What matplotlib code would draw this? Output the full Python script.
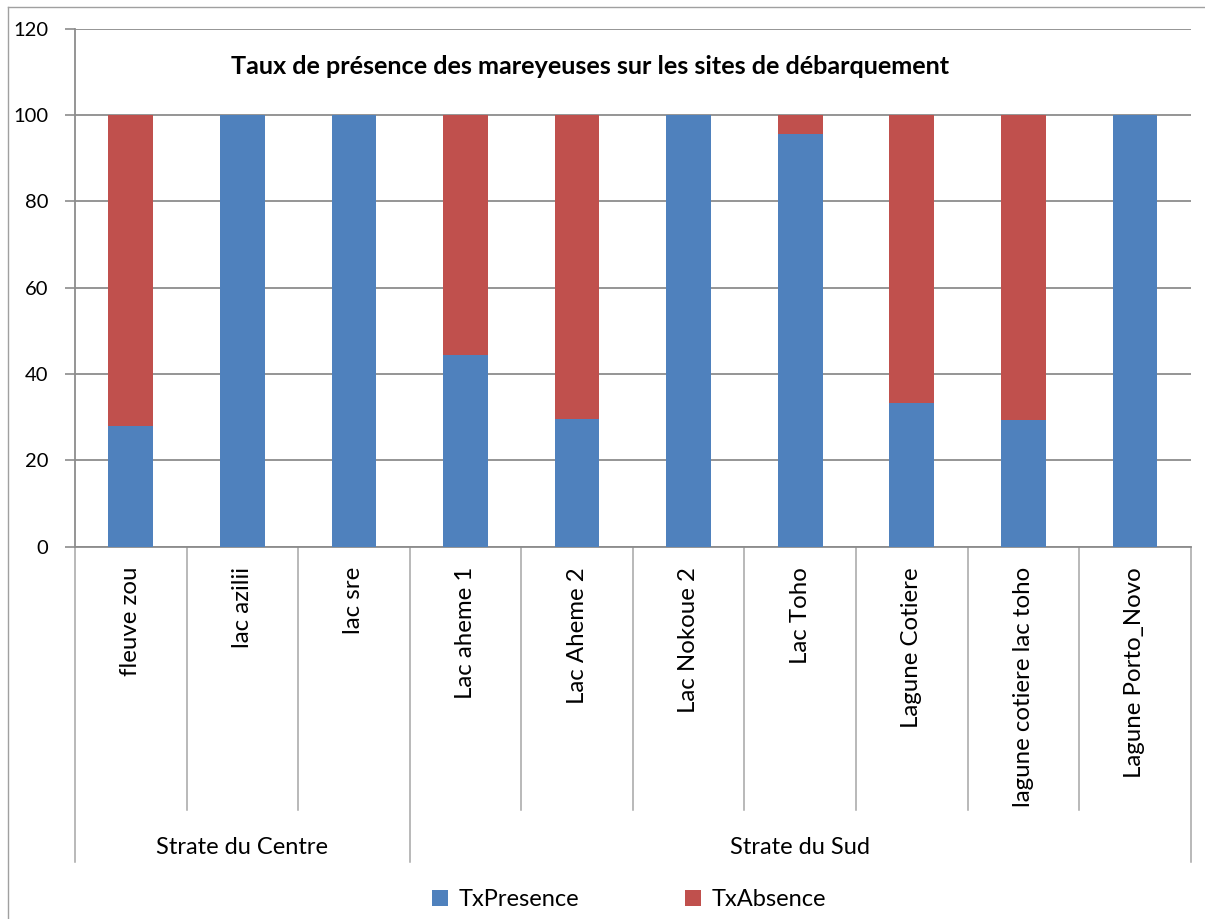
import matplotlib
matplotlib.use("Agg")
import matplotlib.pyplot as plt
from matplotlib.transforms import blended_transform_factory
from matplotlib.patches import Patch
from matplotlib.lines import Line2D

plt.rcParams['font.family'] = ['Lato', 'DejaVu Sans']

# ---- data ----
categories = ["fleuve zou", "lac azilii", "lac sre", "Lac aheme 1", "Lac Aheme 2",
              "Lac Nokoue 2", "Lac Toho", "Lagune Cotiere", "lagune cotiere lac toho",
              "Lagune Porto_Novo"]
groups = ["Strate du Centre", "Strate du Sud"]
group_sizes = [3, 7]
tx_presence = [28.0, 100.0, 100.0, 44.4, 29.6, 100.0, 95.5, 33.3, 29.2, 100.0]
tx_absence = [72.0, 0.0, 0.0, 55.6, 70.4, 0.0, 4.5, 66.7, 70.8, 0.0]
series_names = ["TxPresence", "TxAbsence"]
yticks = [0, 20, 40, 60, 80, 100, 120]
title = "Taux de présence des mareyeuses sur les sites de débarquement"

BLUE = "#4F81BD"
RED = "#C0504D"
GRID = "#8C8C8C"

W, H = 1205, 919
fig = plt.figure(figsize=(W / 100, H / 100), dpi=100)

def fx(px):
    return px / W

def fy(py):
    return 1 - py / H

# outer chart frame (top & left visible)
fig.add_artist(Line2D([fx(8), fx(1205)], [fy(7), fy(7)], color="#A0A0A0", lw=1.0))
fig.add_artist(Line2D([fx(8), fx(8)], [fy(7), fy(919)], color="#A0A0A0", lw=1.0))

left, right, top, bottom = 75, 1190.7, 28.6, 546.5
ax = fig.add_axes([fx(left), fy(bottom), fx(right - left), (bottom - top) / H])

x = list(range(len(categories)))
ax.bar(x, tx_presence, width=0.4, color=BLUE, zorder=3)
ax.bar(x, tx_absence, width=0.4, bottom=tx_presence, color=RED, zorder=3)

ax.set_xlim(-0.5, len(categories) - 0.5)
ax.set_ylim(0, 120)
ax.set_yticks(yticks)
ax.set_yticklabels([str(v) for v in yticks], fontsize=14.5)
ax.tick_params(axis='y', length=7, width=1.2, color=GRID, pad=12, direction='out')
ax.set_xticks([])
ax.yaxis.grid(True, color=GRID, lw=1.3, zorder=0)
for s in ["top", "right"]:
    ax.spines[s].set_visible(False)
ax.spines["left"].set_color(GRID)
ax.spines["left"].set_linewidth(1.3)
ax.spines["bottom"].set_color(GRID)
ax.spines["bottom"].set_linewidth(1.3)

trans = blended_transform_factory(ax.transData, ax.transAxes)
ah = bottom - top
y_inner = (bottom - 810) / ah
y_outer = (bottom - 862) / ah
y_lab = (bottom - 567) / ah
y_grp = (bottom - 847) / ah

# boundaries
boundaries_outer = [-0.5]
acc = -0.5
for gs in group_sizes:
    acc += gs
    boundaries_outer.append(acc)
for i in range(len(categories) + 1):
    b = i - 0.5
    y_end = y_outer if b in boundaries_outer else y_inner
    ax.add_line(Line2D([b, b], [0, y_end], transform=trans, color="#A6A6A6",
                       lw=1.1, clip_on=False))

for xi, lab in zip(x, categories):
    ax.text(xi, y_lab, lab, rotation=90, ha='center', va='top', fontsize=17.3,
            transform=trans, rotation_mode='default')

start = -0.5
for g, gs in zip(groups, group_sizes):
    ax.text(start + gs / 2, y_grp, g, ha='center', va='center', fontsize=17,
            transform=trans)
    start += gs

fig.text(fx(590.5), fy(66), title, ha='center', va='center', fontsize=18.2,
         fontweight='bold')

handles = [Patch(facecolor=BLUE), Patch(facecolor=RED)]
fig.legend(handles, series_names, loc='center', bbox_to_anchor=(fx(629), fy(900)),
           ncol=2, frameon=False, fontsize=17, handlelength=0.68, handleheight=0.68,
           handletextpad=0.47, columnspacing=4.45)

fig.savefig("out.png", dpi=100)
